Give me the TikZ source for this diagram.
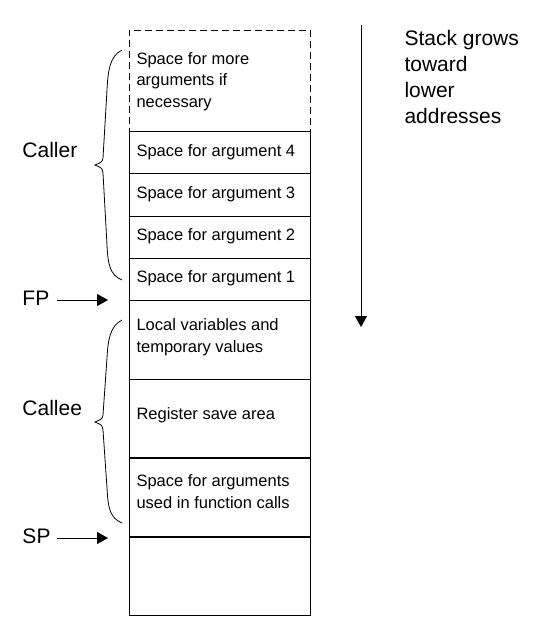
\documentclass[tikz,border=0pt]{standalone}
\usepackage{fontspec}
\setmainfont{Liberation Sans}
\usetikzlibrary{arrows.meta}
\begin{document}
\begin{tikzpicture}[x=1pt,y=-1pt,line width=1pt,
  cell/.style={draw,minimum width=181pt,inner sep=0pt,outer sep=0pt,anchor=north west},
  celltext/.style={anchor=base west,inner sep=0pt,font=\fontsize{16.5}{21.5}\selectfont,align=left},
  lbl/.style={anchor=base west,inner sep=0pt,font=\fontsize{21}{26}\selectfont,align=left},
  ptr/.style={-{Triangle[length=11pt,width=12pt]}},
  brace/.style={line width=0.8pt},
  thick line/.style={line width=2pt}]
\useasboundingbox (0,0) rectangle (549,641);
% cells
\node[cell,dash pattern=on 7pt off 4pt,minimum height=101pt] (more) at (129,30) {};
\node[cell,minimum height=42pt] (a4) at (129,131) {};
\node[cell,minimum height=43pt] (a3) at (129,173) {};
\node[cell,minimum height=42pt] (a2) at (129,216) {};
\node[cell,minimum height=42pt] (a1) at (129,258) {};
\node[cell,minimum height=79pt] (loc) at (129,300) {};
\node[cell,minimum height=79pt] (reg) at (129,379) {};
\node[cell,minimum height=79pt] (out) at (129,458) {};
\node[cell,minimum height=78pt] (free) at (129,537) {};
\draw[thick line] (reg.south west) -- (reg.south east);
\draw[thick line] (out.south west) -- (out.south east);
% cell texts (base anchor of a multi-line node = last line's baseline)
\node[celltext] (tmore) at (136,107) {Space for more\\arguments if\\necessary};
\node[celltext] (t4) at (136,156) {Space for argument 4};
\node[celltext] (t3) at (136,198) {Space for argument 3};
\node[celltext] (t2) at (136,240) {Space for argument 2};
\node[celltext] (t1) at (136,282) {Space for argument 1};
\node[celltext] (tloc) at (136,352) {Local variables and\\temporary values};
\node[celltext] (treg) at (136,419) {Register save area};
\node[celltext] (tout) at (136,508) {Space for arguments\\used in function calls};
% labels
\node[lbl] (caller) at (22,157) {Caller};
\node[lbl] (callee) at (22,415) {Callee};
\node[lbl] (fp) at (22,305) {FP};
\node[lbl] (sp) at (22,543) {SP};
\node[lbl] (grow) at (404,123) {Stack grows\\toward\\lower\\addresses};
% pointers
\coordinate (fpA) at (57,300);
\coordinate (fpB) at (108,300);
\coordinate (spA) at (57,538);
\coordinate (spB) at (108,538);
\draw[ptr] (fpA) -- (fpB);
\draw[ptr] (spA) -- (spB);
\coordinate (gtop) at (361,25);
\coordinate (gbot) at (361,327);
\draw[ptr] (gtop) -- (gbot);
% braces
\draw[brace] (122,50) .. controls (110,56) and (108,70) .. (107,90)
  -- (103,158) .. controls (102,162) .. (95,165)
  .. controls (102,168) .. (103,173)
  -- (107,245) .. controls (108,265) and (110,275) .. (122,280);
\draw[brace] (122,320) .. controls (110,326) and (108,340) .. (107,358)
  -- (103,415) .. controls (102,419) .. (95,422)
  .. controls (102,425) .. (103,430)
  -- (107,488) .. controls (108,508) and (110,518) .. (122,523);
\end{tikzpicture}
\end{document}
